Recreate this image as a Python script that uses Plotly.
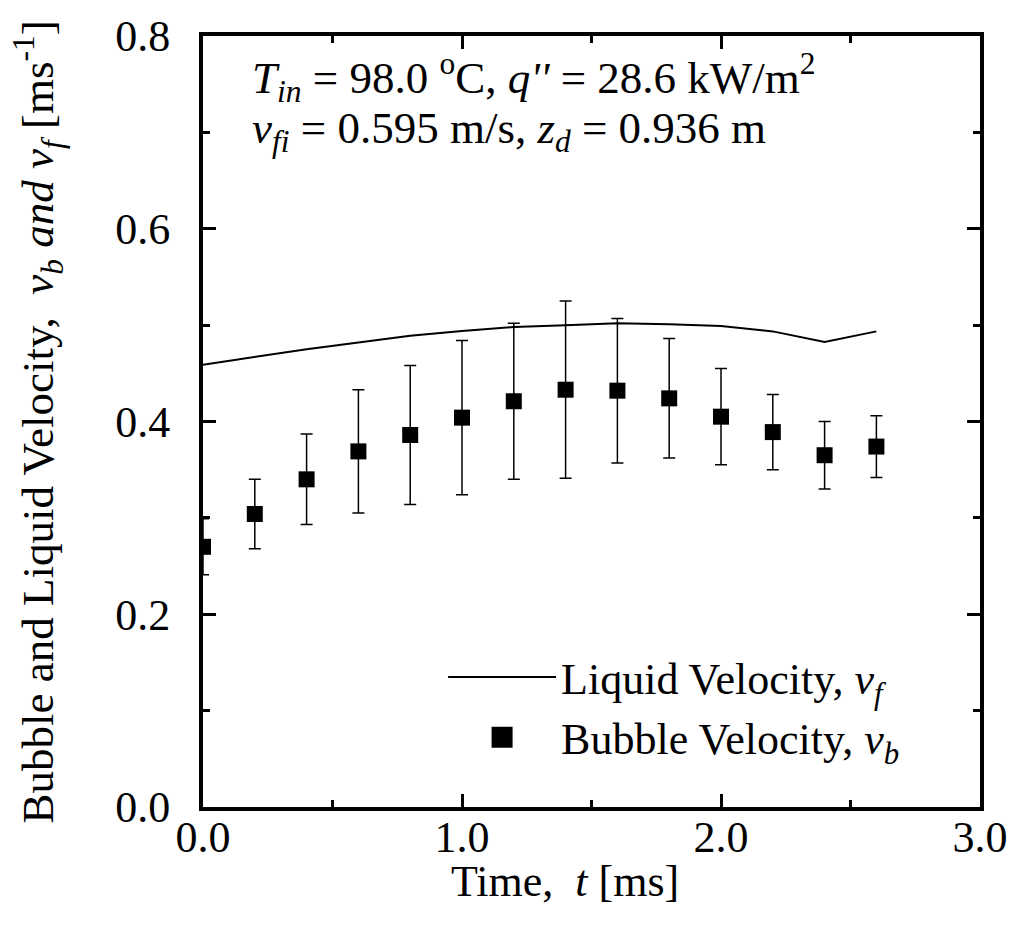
import plotly.graph_objects as go

# ---- data ----
time_bubble = [0.0, 0.2, 0.4, 0.6, 0.8, 1.0, 1.2, 1.4, 1.6, 1.8, 2.0, 2.2, 2.4, 2.6]
bubble_vel = [0.270, 0.304, 0.340, 0.369, 0.386, 0.404, 0.421, 0.433, 0.432, 0.424, 0.405, 0.389, 0.365, 0.374]
bubble_err = [0.029, 0.036, 0.047, 0.064, 0.072, 0.080, 0.081, 0.092, 0.075, 0.062, 0.050, 0.039, 0.035, 0.032]

time_liquid = [0.0, 0.2, 0.4, 0.6, 0.8, 1.0, 1.2, 1.4, 1.6, 1.8, 2.0, 2.2, 2.4, 2.6]
liquid_vel = [0.459, 0.467, 0.475, 0.482, 0.489, 0.494, 0.498, 0.500, 0.502, 0.501, 0.499, 0.4935, 0.4825, 0.4935]

x_ticks = [0.0, 1.0, 2.0, 3.0]
y_ticks = [0.0, 0.2, 0.4, 0.6, 0.8]

FONT = '"Liberation Serif", "Times New Roman", Times, serif'
FS = 44

fig = go.Figure()

fig.add_trace(go.Scatter(
    x=time_liquid, y=liquid_vel, mode="lines",
    line=dict(color="black", width=2),
    name="Liquid Velocity, <i>v</i><sub><i>f</i></sub>",
    showlegend=True,
))
# legend-only entry for the bubble series (no error bar glyph)
fig.add_trace(go.Scatter(
    x=[None], y=[None], mode="markers",
    marker=dict(symbol="square", size=16, color="black", line=dict(color="black", width=5)),
    name="Bubble Velocity, <i>v</i><sub><i>b</i></sub>",
    showlegend=True,
))
fig.add_trace(go.Scatter(
    x=time_bubble, y=bubble_vel, mode="markers",
    marker=dict(symbol="square", size=16, color="black", line=dict(width=0)),
    error_y=dict(type="data", array=bubble_err, visible=True, color="black", thickness=1.5, width=6),
    showlegend=False,
))

axis_common = dict(
    showline=True, linecolor="black", linewidth=4, mirror="ticks",
    ticks="inside", ticklen=13, tickwidth=3, tickcolor="black",
    showgrid=False, zeroline=False,
    tickfont=dict(family=FONT, size=FS, color="black"),
    tickformat=".1f",
)

fig.update_xaxes(
    range=[0, 3.0], tickvals=x_ticks, ticklabelstandoff=-12,
    minor=dict(dtick=0.5, ticks="inside", ticklen=7, tickwidth=3, tickcolor="black", showgrid=False),
    **axis_common,
)
fig.update_yaxes(
    range=[0, 0.8], tickvals=y_ticks, ticklabelstandoff=20,
    minor=dict(dtick=0.1, ticks="inside", ticklen=7, tickwidth=3, tickcolor="black", showgrid=False),
    **axis_common,
)

fig.update_layout(
    width=1020, height=926,
    margin=dict(l=203, r=40, t=27, b=119),
    plot_bgcolor="white", paper_bgcolor="white",
    font=dict(family=FONT, size=FS, color="black"),
    legend=dict(
        x=0.309, y=0.214, xanchor="left", yanchor="top",
        bgcolor="rgba(0,0,0,0)", borderwidth=0,
        font=dict(family=FONT, size=FS, color="black"),
        itemwidth=108, tracegroupgap=0,
    ),
    annotations=[
        dict(text="<i>T</i><sub><i>in</i></sub> = 98.0 <sup>o</sup>C, <i>q''</i> = 28.6 kW/m<sup>2</sup>",
             xref="paper", yref="paper", x=0.06, y=0.99, xanchor="left", yanchor="top",
             showarrow=False, font=dict(family=FONT, size=FS + 1, color="black"), align="left"),
        dict(text="<i>v</i><sub><i>fi</i></sub> = 0.595 m/s, <i>z</i><sub><i>d</i></sub> = 0.936 m",
             xref="paper", yref="paper", x=0.06, y=0.916, xanchor="left", yanchor="top",
             showarrow=False, font=dict(family=FONT, size=FS + 1, color="black"), align="left"),
        dict(text="Time,  <i>t</i> [ms]",
             xref="paper", yref="paper", x=0.466, y=-0.062, xanchor="center", yanchor="top",
             showarrow=False, font=dict(family=FONT, size=FS, color="black")),
        dict(text="Bubble and Liquid Velocity,  <i>v</i><sub><i>b</i></sub> <i>and v</i><sub><i>f</i></sub> [ms<sup>-1</sup>]",
             xref="paper", yref="paper", x=-0.2124, y=0.5, xanchor="center", yanchor="middle",
             textangle=-90, showarrow=False, font=dict(family=FONT, size=FS + 1, color="black")),
    ],
)

fig.write_html("out.html")
